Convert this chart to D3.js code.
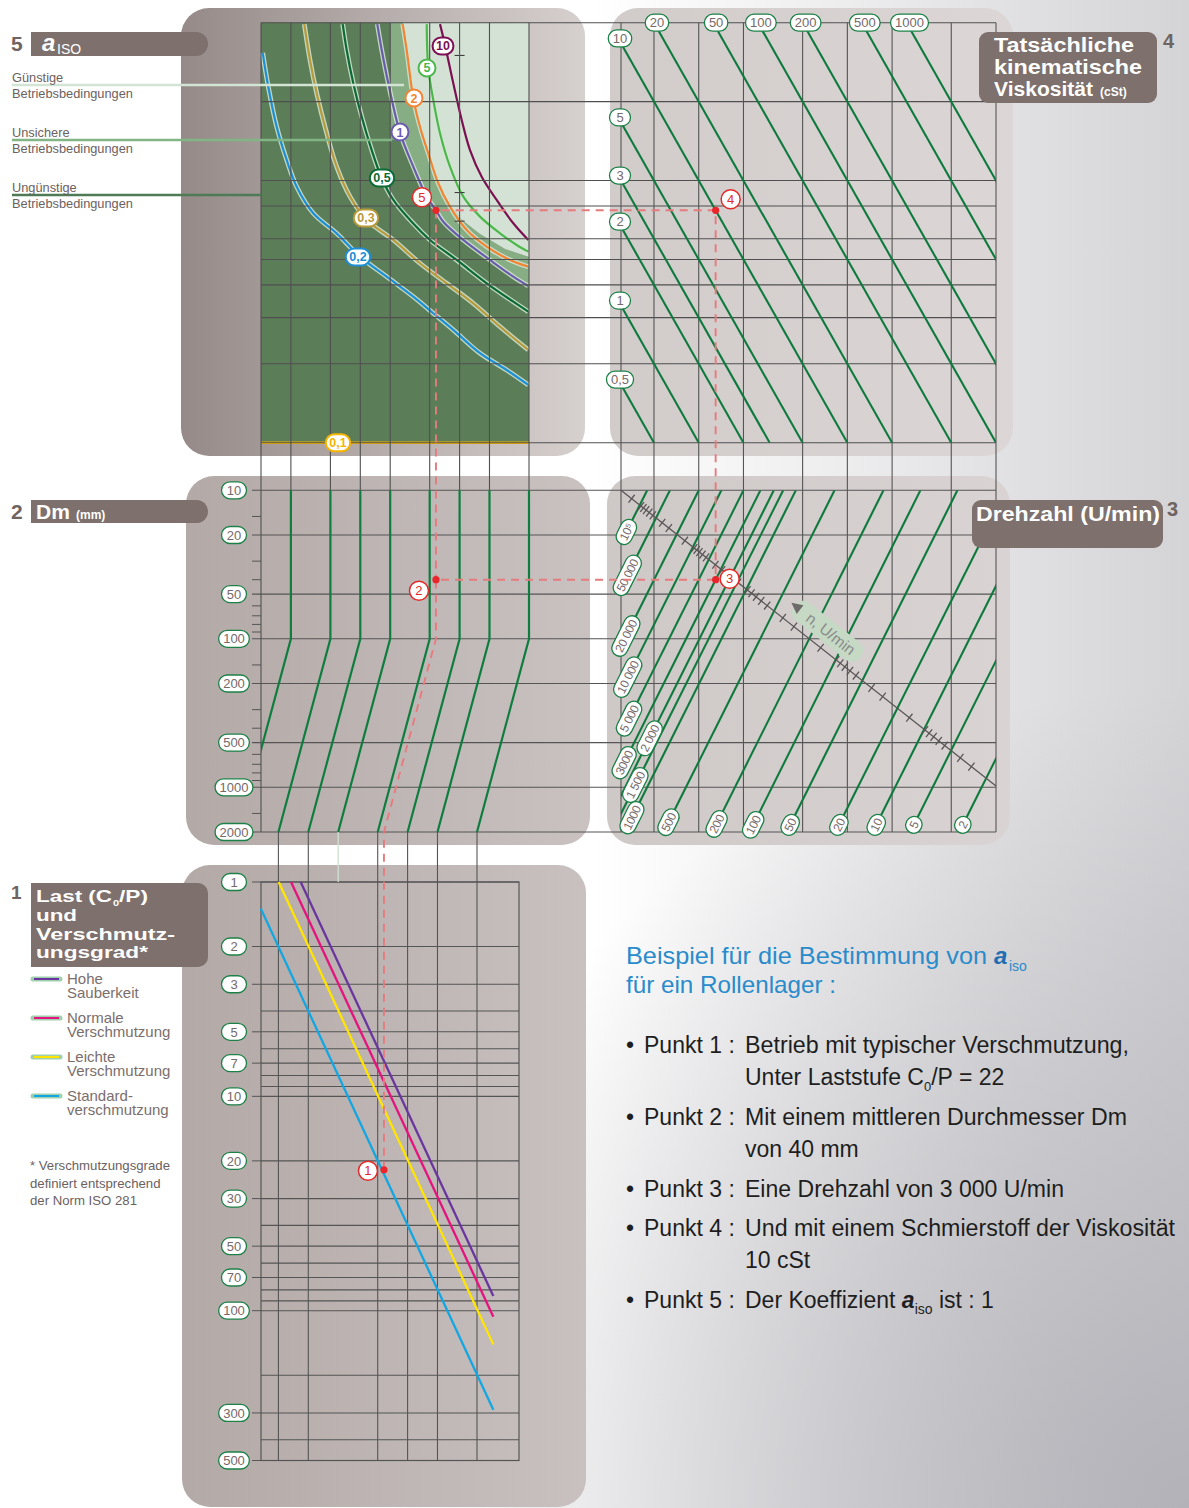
<!DOCTYPE html>
<html><head><meta charset="utf-8">
<script src="https://cdn.jsdelivr.net/npm/d3@7"></script>
<style>body{margin:0;background:#fff}svg{display:block}text{font-family:"Liberation Sans",Arial,sans-serif}</style>
</head><body><svg id="c" width="1189" height="1508"></svg>
<script>
// ---------------- DATA ----------------
const loadGrid = [0.01,0.02,0.05,0.1,0.2,0.5,1,2,5];           // e_C·C_u/P columns
const kappaGrid = [4,2,1,0.8,0.6,0.5,0.4,0.3,0.2,0.1];
const kappaMinor = [3,0.9,0.7];
const nu1Grid = [3,5,10,20,50,100,200,500,1000];
const dmGrid = [10,20,50,100,200,500,1000,2000];
const dmMinor = [15,30,40,60,70,80,90,150,300,400,600,700,800,900,1500];
const c0pGrid = [1,2,3,4,5,6,7,8,9,10,20,30,40,50,60,70,80,90,100,200,300,400,500];
const c0pLabels = [1,2,3,5,7,10,20,30,50,70,100,300,500];
const viscosities = [0.5,1,2,3,5,10,20,50,100,200,500,1000];
const viscLabels = ["0,5","1","2","3","5","10","20","50","100","200","500","1000"];
const speeds = [100000,50000,20000,10000,5000,3000,2000,1500,1000,500,200,100,50,20,10,5,2];
const speedLabels = ["10⁵","50 000","20 000","10 000","5 000","3000","2 000","1 500","1000","500","200","100","50","20","10","5","2"];
const speedNu1AtDm10 = [4.5,6.4,10,14.2,20,26,32,37,45,82,175,310,550,1180,2100,3750,8000];
const speedNu1AtDm2000 = [0.32,0.45,0.71,1.0,1.41,1.84,2.26,2.6,3.18,5.8,12.4,22,39,83,148,265,566];
const speedTicks = [150000,100000,90000,80000,70000,60000,40000,30000,15000,10000,9000,8000,7000,6000,4000,3000,1500,
  1000,900,800,700,600,400,300,150,100,90,80,70,60,40,30,15,10,9,8,7,6,4,3];
// a_ISO curves: [e_C·C_u/P, kappa]
const aiso02 = [[0.0104,3.07],[0.01184,2.28],[0.01439,1.605],[0.01815,1.198],[0.02288,0.947],[0.03363,0.75],[0.0578,0.629],[0.0993,0.5125],[0.1844,0.4298],[0.3418,0.3606],[0.5434,0.3117],[0.864,0.2692],[1.605,0.2194],[2.98,0.1894],[4.92,0.1661]];
const aiso03 = [[0.0273,3.95],[0.03115,2.88],[0.0364,2.15],[0.0459,1.515],[0.0578,1.13],[0.0788,0.868],[0.116,0.7075],[0.215,0.5934],[0.399,0.4836],[0.741,0.4056],[1.374,0.3402],[2.552,0.2771],[4.92,0.2258]];
const aiso05 = [[0.0665,3.95],[0.0729,3.147],[0.085,2.349],[0.1033,1.752],[0.1302,1.307],[0.1643,1.02],[0.215,0.843],[0.3166,0.7075],[0.5033,0.5934],[0.935,0.4977],[1.875,0.4056],[3.474,0.3451],[4.92,0.3161]];
const aiso1 = [[0.1483,3.95],[0.1643,3.147],[0.1914,2.349],[0.251,1.523],[0.3418,1.13],[0.4664,0.868],[0.578,0.77],[0.6854,0.6966],[1.09,0.5934],[2.024,0.4977],[3.474,0.4298],[4.92,0.396]];
const aiso2 = [[0.2673,3.95],[0.2933,3.147],[0.3418,2.06],[0.399,1.605],[0.484,1.27],[0.6103,0.9763],[0.8004,0.7948],[1.179,0.6477],[1.875,0.5595],[3.218,0.4977],[4.92,0.4693]];
const aiso5 = [[0.4664,3.95],[0.484,2.681],[0.5434,2.029],[0.6349,1.515],[0.8004,1.13],[1.09,0.868],[1.605,0.7283],[2.552,0.629],[3.758,0.5677],[4.92,0.5355]];
const aiso10 = [[0.6349,3.95],[0.7129,3.289],[0.864,2.349],[1.05,1.702],[1.273,1.307],[1.669,1.034],[2.364,0.843],[3.474,0.687],[4.92,0.5934]];
const aiso01 = [[0.01,0.1],[5,0.1]];
const aisoLabels = ["0,2","0,3","0,5","1","2","5","10","0,1"];
const aisoLabelAt = [[0.0947,0.511],[0.1141,0.72],[0.1654,1.023],[0.251,1.531],[0.3473,2.064],[0.4695,2.688],[0.6806,3.26],[0.0596,0.1]];
const favourableEdge = [[0.2692,4],[0.2885,3.147],[0.3316,2.064],[0.39,1.6],[0.4695,1.274],[0.5785,1.0],[0.7466,0.8356],[1.057,0.7075],[1.605,0.6253],[2.866,0.548],[5,0.511]];
const uncertainTop = [[0.2,4],[0.2,1.43],[0.262,1.43]];
// contamination lines: [e_C·C_u/P, C0/P]
const contamHigh = [[0.0838,1],[7.3,85.5]];
const contamNormal = [[0.067,1],[7.3,106.7]];
const contamLight = [[0.0503,1],[7.3,143.6]];
const contamStandard = [[0.0332,1.33],[7.3,290]];
const contamNames = [["Hohe","Sauberkeit"],["Normale","Verschmutzung"],["Leichte","Verschmutzung"],["Standard-","verschmutzung"]];
// worked example
const exLoad = 0.578, exC0P = 22, exDm = 40, exNu1 = 13, exKappa = 0.77;

// ---------------- SCALES ----------------
const xLoad = d3.scaleLog().domain([0.01,5]).range([261,529]);
const xLoadB = d3.scaleLog().domain([0.01,5]).range([209,477]);
const yKappa = d3.scaleLog().domain([4,0.1]).range([22.7,442.7]);
const xNu1 = d3.scaleLog().domain([3,1000]).range([621,996]);
const yDm = d3.scaleLog().domain([10,2000]).range([490.3,832]);
const yC0P = d3.scaleLog().domain([1,500]).range([882,1460.5]);
const nDiag = d3.scaleLog().domain([100000,1000,10]).range([0.0533,0.3373,0.8107]);

const svg = d3.select("#c");
const defs = svg.append("defs");
function grad(id, stops, a){ const g=defs.append("linearGradient").attr("id",id);
  Object.entries(a||{x1:0,y1:0,x2:1,y2:0}).forEach(([k,v])=>g.attr(k,v));
  stops.forEach(([o,c,op])=>g.append("stop").attr("offset",o).attr("stop-color",c).attr("stop-opacity",op==null?1:op)); }
grad("pgH",[[0,"#ffffff"],[0.5,"#ffffff"],[1,"#d4d4d7"]]);
const rg = defs.append("radialGradient").attr("id","pgR").attr("cx",1189).attr("cy",1508).attr("r",820).attr("gradientUnits","userSpaceOnUse");
rg.append("stop").attr("offset",0).attr("stop-color","#b2b2b8").attr("stop-opacity",1);
rg.append("stop").attr("offset",1).attr("stop-color","#b2b2b8").attr("stop-opacity",0);
grad("gTL",[[0,"#958a88"],[1,"#d6d0cf"]]);
grad("gTR",[[0,"#d1cbca"],[1,"#dcd7d6"]]);
grad("gML",[[0,"#b3a9a7"],[1,"#c9c2c1"]]);
grad("gMR",[[0,"#cec8c7"],[1,"#d9d4d3"]]);
grad("gBL",[[0,"#b3a9a7"],[1,"#c8c1c0"]]);
function clip(id,x,y,w,h){ defs.append("clipPath").attr("id",id).append("rect").attr("x",x).attr("y",y).attr("width",w).attr("height",h); }
clip("cTR", xNu1(3), yKappa(4), xNu1(1000)-xNu1(3), yKappa(0.1)-yKappa(4));
clip("cMR", xNu1(3), yDm(10), xNu1(1000)-xNu1(3), yDm(2000)-yDm(10));
clip("cML", xLoad(0.01), yDm(10)-2, 340, yDm(2000)-yDm(10)+4);

svg.append("rect").attr("width",1189).attr("height",1508).attr("fill","url(#pgH)");
svg.append("rect").attr("width",1189).attr("height",1508).attr("fill","url(#pgR)");

function panel(x,y,w,h,g){ svg.append("rect").attr("x",x).attr("y",y).attr("width",w).attr("height",h).attr("rx",28).attr("fill",`url(#${g})`); }
panel(181,8,404,448,"gTL"); panel(610,8,403,448,"gTR");
panel(186,476,404,369,"gML"); panel(607,476,403,369,"gMR");
panel(182,865,404,642,"gBL");

// ---- top-left a_ISO field
const tl = svg.append("g");
tl.append("rect").attr("x",xLoad(0.01)).attr("y",yKappa(4)).attr("width",xLoad(5)-xLoad(0.01)).attr("height",yKappa(0.1)-yKappa(4)).attr("fill","#5b7e58");
const polyK = d3.line().x(d=>xLoad(d[0])).y(d=>yKappa(d[1]));
const medPoly = [...uncertainTop, ...aiso1.filter(p=>p[0]>0.3), [5,0.39], ...favourableEdge.slice().reverse()];
tl.append("path").attr("d",polyK(medPoly)+"Z").attr("fill","#87ad85");
const lightPoly = [...favourableEdge,[5,4]];
tl.append("path").attr("d",polyK(lightPoly)+"Z").attr("fill","#d4e1d5");

const grid = svg.append("g").attr("fill","none");
kappaGrid.forEach(k=>grid.append("line").attr("x1",xLoad(0.01)).attr("x2",xNu1(1000)).attr("y1",yKappa(k)).attr("y2",yKappa(k)).attr("stroke","#4f4f4f").attr("stroke-width",1.1));
kappaMinor.forEach(k=>grid.append("line").attr("x1",xLoad(1)-5).attr("x2",xLoad(1)+5).attr("y1",yKappa(k)).attr("y2",yKappa(k)).attr("stroke","#3f3f3f").attr("stroke-width",1.1));
loadGrid.forEach(u=>grid.append("line").attr("x1",xLoad(u)).attr("x2",xLoad(u)).attr("y1",yKappa(4)).attr("y2",yDm(10)).attr("stroke","#4f4f4f").attr("stroke-width",1.1));
grid.append("line").attr("x1",xLoad(0.01)).attr("x2",xLoad(0.01)).attr("y1",yDm(10)).attr("y2",yDm(2000)).attr("stroke","#4f4f4f").attr("stroke-width",1.1);
nu1Grid.forEach(v=>grid.append("line").attr("x1",xNu1(v)).attr("x2",xNu1(v)).attr("y1",yKappa(4)).attr("y2",yDm(2000)).attr("stroke","#555").attr("stroke-width",1.1));
dmGrid.forEach(d=>grid.append("line").attr("x1",252).attr("x2",xNu1(1000)).attr("y1",yDm(d)).attr("y2",yDm(d)).attr("stroke","#555").attr("stroke-width",1.1));
dmMinor.forEach(d=>grid.append("line").attr("x1",252).attr("x2",xLoad(0.01)).attr("y1",yDm(d)).attr("y2",yDm(d)).attr("stroke","#555").attr("stroke-width",1));
const bx0 = xLoad(0.01), bx1 = 519;
c0pGrid.forEach(c=>grid.append("line").attr("x1",bx0).attr("x2",bx1).attr("y1",yC0P(c)).attr("y2",yC0P(c)).attr("stroke","#555").attr("stroke-width",1.1));
c0pLabels.forEach(c=>grid.append("line").attr("x1",252).attr("x2",bx0).attr("y1",yC0P(c)).attr("y2",yC0P(c)).attr("stroke","#555").attr("stroke-width",1));
grid.append("rect").attr("x",bx0).attr("y",yC0P(1)).attr("width",bx1-bx0).attr("height",yC0P(500)-yC0P(1)).attr("stroke","#555").attr("stroke-width",1.2);
[0.05,0.1,0.5,1,2,5].forEach(u=>grid.append("line").attr("x1",xLoadB(u)).attr("x2",xLoadB(u)).attr("y1",yDm(2000)).attr("y2",yC0P(500)).attr("stroke","#555").attr("stroke-width",1.1));
grid.append("line").attr("x1",xLoadB(0.2)).attr("x2",xLoadB(0.2)).attr("y1",yDm(2000)).attr("y2",yC0P(1)).attr("stroke","#cfe2cf").attr("stroke-width",1.3);

[[85,"#d2e4d3",404],[140,"#82b585",392],[195,"#4e7a55",xLoad(0.01)]].forEach(([y,c,x2])=>
  svg.append("line").attr("x1",12).attr("x2",x2).attr("y1",y).attr("y2",y).attr("stroke",c).attr("stroke-width",2.4));

const curveK = d3.line().x(d=>xLoad(d[0])).y(d=>yKappa(d[1])).curve(d3.curveCatmullRom.alpha(0.5));
const aisoSets = [aiso02,aiso03,aiso05,aiso1,aiso2,aiso5,aiso10,aiso01];
const aisoColors = ["#1c8fd6","#b99a3b","#0b6b35","#6a5cad","#f28535","#4cb84c","#7d0f55","#f5b400"];
aisoSets.forEach((s,i)=>{
  if(i<7) tl.append("path").attr("d",curveK(s)).attr("fill","none").attr("stroke","#d3e6d2").attr("stroke-width",4.8).attr("opacity",0.85);
  tl.append("path").attr("d",curveK(s)).attr("fill","none").attr("stroke",aisoColors[i]).attr("stroke-width",i==7?2.4:2.2);
});

const curveNK = d3.line().x(d=>xNu1(d[0])).y(d=>yKappa(d[1]));
const tr = svg.append("g").attr("clip-path","url(#cTR)");
viscosities.forEach(v=>tr.append("path").attr("d",curveNK([[v/4,4],[v/0.1,0.1]])).attr("stroke","#0f7a3e").attr("stroke-width",2.1).attr("fill","none"));

const ml = svg.append("g").attr("clip-path","url(#cML)");
loadGrid.slice(1).forEach(u=>ml.append("path").attr("d",d3.line()([[xLoad(u),yDm(10)],[xLoad(u),yDm(100)],[xLoadB(u),yDm(2000)]]))
  .attr("stroke","#0f7d3f").attr("stroke-width",2.2).attr("fill","none"));

const curveND = d3.line().x(d=>xNu1(d[0])).y(d=>yDm(d[1]));
const mr = svg.append("g").attr("clip-path","url(#cMR)");
speeds.forEach((n,i)=>mr.append("path").attr("d",curveND([[speedNu1AtDm10[i],10],[speedNu1AtDm2000[i],2000]])).attr("stroke","#0f7a3e").attr("stroke-width",2.1).attr("fill","none"));

const dA=[xNu1(3),yDm(10)], dB=[xNu1(1000),yDm(980)];
svg.append("line").attr("x1",dA[0]).attr("y1",dA[1]).attr("x2",dB[0]).attr("y2",dB[1]).attr("stroke","#5a5556").attr("stroke-width",1.3);
const dl=Math.hypot(dB[0]-dA[0],dB[1]-dA[1]), ux=(dB[0]-dA[0])/dl, uy=(dB[1]-dA[1])/dl;
speedTicks.forEach(n=>{ const t=nDiag(n); const px=dA[0]+t*(dB[0]-dA[0]), py=dA[1]+t*(dB[1]-dA[1]);
  svg.append("line").attr("x1",px-uy*5).attr("y1",py+ux*5).attr("x2",px+uy*5).attr("y2",py-ux*5).attr("stroke","#5a5556").attr("stroke-width",1.3); });
const ang = Math.atan2(uy,ux)*180/Math.PI;
const ng = svg.append("g").attr("transform",`translate(826,630) rotate(${ang})`);
ng.append("rect").attr("x",-40).attr("y",-11).attr("width",84).attr("height",22).attr("rx",10).attr("fill","#c5d9c5");
ng.append("path").attr("d","M-44,0 L-33,-5.5 L-33,5.5Z").attr("fill","#6e6a6a");
ng.append("text").attr("x",6).attr("y",5.5).attr("text-anchor","middle").attr("font-size",15.5).attr("fill","#8b8b8b").text("n, U/min");

const curveLC = d3.line().x(d=>xLoadB(d[0])).y(d=>yC0P(d[1]));
const contamSets=[contamHigh,contamNormal,contamLight,contamStandard];
const contamColors=["#6b35a0","#e6137f","#ffe500","#12a7e2"];
contamSets.forEach((s,i)=>svg.append("path").attr("d",curveLC(s)).attr("stroke",contamColors[i]).attr("stroke-width",2.3).attr("fill","none"));

function pill(parent,cx,cy,label,o={}){
  const g=parent.append("g").attr("transform",`translate(${cx},${cy}) rotate(${o.angle||0})`);
  const r=g.append("rect");
  const t=g.append("text").attr("text-anchor","middle").attr("dy","0.36em").attr("font-size",o.fs||12.5)
    .attr("fill",o.color||"#75696a").attr("font-weight",o.weight||"normal").attr("letter-spacing",o.ls||0).text(label);
  const w=Math.max(t.node().getComputedTextLength()+(o.pad||9),o.minW||17), h=o.h||16;
  r.attr("x",-w/2).attr("y",-h/2).attr("width",w).attr("height",h).attr("rx",h/2).attr("fill","#fff").attr("stroke",o.stroke||"#1c8047").attr("stroke-width",o.sw||1.3);
  return g;
}
const lab = svg.append("g");
aisoLabelAt.forEach((p,i)=>pill(lab,xLoad(p[0]),yKappa(p[1]),aisoLabels[i],{stroke:aisoColors[i],color:aisoColors[i],sw:2,fs:12.5,weight:"bold",h:17,pad:7}));
viscosities.forEach((v,i)=>{
  const kEdge=v/3;
  if(kEdge<=4) pill(lab,xNu1(3)-1,yKappa(kEdge)-5,viscLabels[i],{minW:21,h:17,fs:13});
  else pill(lab,xNu1(v/4)+3,yKappa(4),viscLabels[i],{minW:21,h:17,fs:13});
});
dmGrid.forEach(d=>pill(lab,234,yDm(d),String(d),{minW:25,h:17,fs:13}));
c0pLabels.forEach(c=>pill(lab,234,yC0P(c),String(c),{minW:25,h:17,fs:13}));
const speedLift = [12,14,11,15,18,7,64,32,16,11,9,8,8,8,8,8,8];
speeds.forEach((n,i)=>{
  const a=[xNu1(speedNu1AtDm2000[i]),yDm(2000)], b=[xNu1(speedNu1AtDm10[i]),yDm(10)];
  let e=a;
  if(speedNu1AtDm2000[i]<3){ const t=(Math.log(3)-Math.log(speedNu1AtDm2000[i]))/(Math.log(speedNu1AtDm10[i])-Math.log(speedNu1AtDm2000[i]));
    e=[a[0]+t*(b[0]-a[0]),a[1]+t*(b[1]-a[1])]; }
  const L=Math.hypot(b[0]-a[0],b[1]-a[1]), vx=(b[0]-a[0])/L, vy=(b[1]-a[1])/L;
  const an=Math.atan2(vy,vx)*180/Math.PI;
  pill(lab,e[0]+vx*speedLift[i],e[1]+vy*speedLift[i],speedLabels[i],{angle:an,fs:12,ls:-0.4,h:16,pad:9});
});

const P1=[xLoadB(exLoad),yC0P(exC0P)], Q1=[xLoadB(exLoad),yDm(2000)], Q2=[xLoad(exLoad),yDm(100)];
const P2=[xLoad(exLoad),yDm(exDm)], P3=[xNu1(exNu1),yDm(exDm)], P4=[xNu1(exNu1),yKappa(exKappa)], P5=[xLoad(exLoad),yKappa(exKappa)];
svg.append("path").attr("d",d3.line()([P1,Q1,Q2,P2,P3,P4,P5,P2])).attr("fill","none").attr("stroke","#e67b7e").attr("stroke-width",1.9).attr("stroke-dasharray","8,6");
[P1,P2,P3,P4,P5].forEach(p=>svg.append("circle").attr("cx",p[0]).attr("cy",p[1]).attr("r",3.6).attr("fill","#e8262b"));
[[P1,-16,1],[P2,-17,11],[P3,14,-1],[P4,15,-11],[P5,-14,-13]].forEach(([p,dx,dy],i)=>{
  svg.append("circle").attr("cx",p[0]+dx).attr("cy",p[1]+dy).attr("r",9.5).attr("fill","#fff").attr("stroke","#e22a2a").attr("stroke-width",1.5);
  svg.append("text").attr("x",p[0]+dx).attr("y",p[1]+dy+4.6).attr("text-anchor","middle").attr("font-size",13).attr("fill","#e22a2a").text(i+1);
});

const tabC="#7d706d", numC="#6f6462";
function tab(x,y,w,h,r,sqLeft){ svg.append("rect").attr("x",x).attr("y",y).attr("width",w).attr("height",h).attr("rx",r).attr("fill",tabC);
  if(sqLeft) svg.append("rect").attr("x",x).attr("y",y).attr("width",20).attr("height",h).attr("fill",tabC); }
function txt(x,y,s,o={}){ const t=svg.append("text").attr("x",x).attr("y",y).attr("font-size",o.fs||13).attr("fill",o.fill||"#6b615f")
  .attr("font-weight",o.w||"normal").attr("font-style",o.it||"normal"); if(o.ff) t.attr("font-family",o.ff);
  if(o.len) t.attr("textLength",o.len).attr("lengthAdjust","spacingAndGlyphs"); t.text(s); return t; }
tab(31,32,177,24,12,true);
txt(11,51,"5",{fs:21,w:"bold",fill:numC});
txt(42,51,"a",{fs:24,w:"bold",it:"italic",fill:"#fff",ff:"DejaVu Serif"});
txt(57,54,"ISO",{fs:14,fill:"#fff"});
tab(31,500,177,23,11.5,true);
txt(11,519,"2",{fs:21,w:"bold",fill:numC});
txt(36,519,"Dm",{fs:21,w:"bold",fill:"#fff"});
txt(76,519,"(mm)",{fs:12,w:"bold",fill:"#fff"});
tab(31,883,177,84,10,true);
txt(11,899,"1",{fs:19,w:"bold",fill:numC});
txt(36,902,"Last (C",{fs:17,w:"bold",fill:"#fff",len:76});
txt(113,906,"o",{fs:10,w:"bold",fill:"#fff"});
txt(119,902,"/P)",{fs:17,w:"bold",fill:"#fff",len:29});
txt(36,921,"und",{fs:17,w:"bold",fill:"#fff",len:41});
txt(36,940,"Verschmutz-",{fs:17,w:"bold",fill:"#fff",len:139});
txt(36,958,"ungsgrad*",{fs:17,w:"bold",fill:"#fff",len:112});
tab(979,32,178,71,9,false);
txt(994,52,"Tatsächliche",{fs:19.5,w:"bold",fill:"#fff",len:140});
txt(994,74,"kinematische",{fs:19.5,w:"bold",fill:"#fff",len:148});
txt(994,96,"Viskosität",{fs:19.5,w:"bold",fill:"#fff",len:99});
txt(1100,96,"(cSt)",{fs:12,w:"bold",fill:"#fff"});
txt(1163,48,"4",{fs:20,w:"bold",fill:numC});
tab(972,500,191,48,9,false);
txt(976,521,"Drehzahl (U/min)",{fs:19.5,w:"bold",fill:"#fff",len:184});
txt(1167,516,"3",{fs:20,w:"bold",fill:numC});

[["Günstige",82],["Betriebsbedingungen",98],["Unsichere",137],["Betriebsbedingungen",153],["Ungünstige",192],["Betriebsbedingungen",208]]
  .forEach(([s,y])=>txt(12,y,s,{fs:12.8}));

const legY=[979,1018,1057,1096];
legY.forEach((y,i)=>{
  svg.append("line").attr("x1",33).attr("x2",60).attr("y1",y).attr("y2",y).attr("stroke","#9fd0ad").attr("stroke-width",5).attr("stroke-linecap","round");
  svg.append("line").attr("x1",34).attr("x2",59).attr("y1",y).attr("y2",y).attr("stroke",contamColors[i]).attr("stroke-width",2);
  txt(67,y+5,contamNames[i][0],{fs:15,fill:"#7a6e6c"}); txt(67,y+19,contamNames[i][1],{fs:15,fill:"#7a6e6c"});
});
[["* Verschmutzungsgrade",1170],["definiert entsprechend",1188],["der Norm ISO 281",1205]].forEach(([s,y])=>txt(30,y,s,{fs:13.2,fill:"#6b615f"}));

const blue="#2a8bcb";
txt(626,964,"Beispiel für die Bestimmung von",{fs:24,fill:blue,ff:"Roboto",w:300,len:361});
txt(994,964,"a",{fs:24,fill:"#1f6fb0",w:"bold",it:"italic"});
txt(1009,971,"iso",{fs:14,fill:blue});
txt(626,993,"für ein Rollenlager :",{fs:24,fill:blue,ff:"Roboto",w:300,len:210});
const rows=[[1053,"1","Betrieb mit typischer Verschmutzung,",384],[1085,null,"Unter Laststufe C",0],[1125,"2","Mit einem mittleren Durchmesser Dm",382],
  [1157,null,"von 40 mm",0],[1197,"3","Eine Drehzahl von 3 000 U/min",319],[1236,"4","Und mit einem Schmierstoff der Viskosität",430],[1268,null,"10 cSt",0],[1308,"5","Der Koeffizient ",0]];
rows.forEach(([y,k,s,len])=>{
  if(k){ txt(626,y,"•",{fs:23,fill:"#1e1e1e"}); txt(644,y,`Punkt ${k} :`,{fs:23,fill:"#1e1e1e"}); }
  const t=txt(745,y,s,{fs:23,fill:"#1e1e1e",len:len||null});
  if(!len) t.attr("textLength",null);
  if(s==="Unter Laststufe C"){ t.append("tspan").attr("font-size",13).attr("dy",6).text("0"); t.append("tspan").attr("dy",-6).text("/P = 22"); }
  if(s==="Der Koeffizient "){ t.append("tspan").attr("font-weight","bold").attr("font-style","italic").text("a");
    t.append("tspan").attr("font-size",14).attr("dy",6).text("iso"); t.append("tspan").attr("dy",-6).text(" ist : 1"); }
});
</script></body></html>
